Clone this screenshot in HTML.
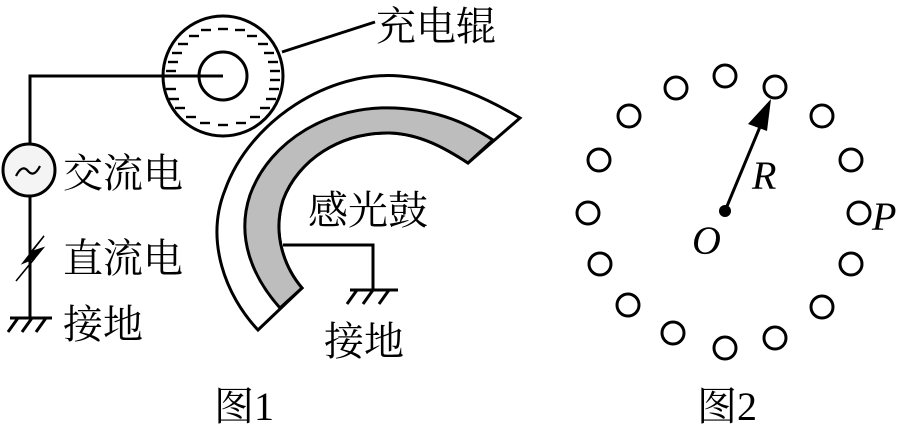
<!DOCTYPE html>
<html><head><meta charset="utf-8"><style>
body{margin:0;background:#fff}
svg{display:block}
.cj{font-family:"Liberation Serif","Noto Serif CJK SC","Noto Sans CJK SC",serif;font-size:40px;fill:#000}
.it{font-family:"Liberation Serif",serif;font-style:italic;font-size:40px;fill:#000}
</style></head><body>
<svg width="904" height="430" viewBox="0 0 904 430" xmlns="http://www.w3.org/2000/svg">
<g fill="none" stroke="#000" stroke-width="3">
<path d="M258,330 C225,295 205,240 225,190 C250,120 330,70 400,76 C450,80 490,100 520,118 L468,163 C445,148 420,134 390,133 C340,132 298,160 283,200 C272,235 285,268 302,288 Z" fill="#fff"/>
<path d="M280,308 C255,280 235,240 250,195 C270,140 330,105 395,108 C440,110 470,125 493,140 L468,163 C445,148 420,134 390,133 C340,132 298,160 283,200 C272,235 285,268 302,288 Z" fill="#bdbdbd"/>
<circle cx="223" cy="76" r="60" fill="#fff"/>
<circle cx="223" cy="76" r="24"/>
<path d="M223,76 H30 V144"/>
<path d="M282,52 L375,22"/>
<circle cx="29" cy="170" r="26" fill="#f4f4f4"/>
<path d="M30,196 V318"/>
<path d="M10,318 H52 M18,318 L8,332 M32,318 L22,332 M46,318 L36,332"/>
<path d="M283,245 H373 V290 M350,290 H398 M357,290 L347,304 M373,290 L363,304 M389,290 L379,304"/>
</g>
<path d="M44,236 L23,263 L35,258 L16,281 L43,248 L31,252 Z" fill="#000" stroke="#000" stroke-width="1.5"/>
<path d="M16,176 q6,-12 12,-5 q6,7 12,-5" fill="none" stroke="#000" stroke-width="2.2"/>
<g stroke="#000" stroke-width="2.4">
<line x1="201" y1="30" x2="211" y2="30"/><line x1="218" y1="29" x2="228" y2="29"/><line x1="235" y1="30" x2="245" y2="30"/>
<line x1="189" y1="36" x2="199" y2="36"/><line x1="247" y1="36" x2="257" y2="36"/>
<line x1="178" y1="44" x2="188" y2="44"/><line x1="258" y1="44" x2="268" y2="44"/>
<line x1="172" y1="53" x2="182" y2="53"/><line x1="264" y1="53" x2="274" y2="53"/>
<line x1="168" y1="62" x2="178" y2="62"/><line x1="268" y1="62" x2="278" y2="62"/>
<line x1="166" y1="71" x2="176" y2="71"/><line x1="270" y1="71" x2="280" y2="71"/>
<line x1="270" y1="80" x2="280" y2="80"/>
<line x1="166" y1="89" x2="176" y2="89"/><line x1="269" y1="89" x2="279" y2="89"/>
<line x1="169" y1="99" x2="179" y2="99"/><line x1="266" y1="99" x2="276" y2="99"/>
<line x1="175" y1="108" x2="185" y2="108"/><line x1="260" y1="108" x2="270" y2="108"/>
<line x1="186" y1="117" x2="196" y2="117"/><line x1="250" y1="117" x2="260" y2="117"/>
<line x1="200" y1="123" x2="210" y2="123"/><line x1="218" y1="125" x2="228" y2="125"/><line x1="236" y1="123" x2="246" y2="123"/>
</g>
<text class="cj" x="376" y="40">充电辊</text>
<text class="cj" x="63" y="187">交流电</text>
<text class="cj" x="63" y="272">直流电</text>
<text class="cj" x="63" y="338">接地</text>
<text class="cj" x="308" y="224">感光鼓</text>
<text class="cj" x="324" y="355">接地</text>
<text class="cj" x="214" y="420">图1</text>
<text class="cj" x="697" y="420">图2</text>
<g fill="#fff" stroke="#000" stroke-width="3">
<circle cx="725" cy="76" r="11"/><circle cx="775" cy="87" r="11"/><circle cx="822" cy="116" r="11"/><circle cx="851" cy="160" r="11"/>
<circle cx="859" cy="213" r="11"/><circle cx="851" cy="264" r="11"/><circle cx="822" cy="307" r="11"/><circle cx="775" cy="338" r="11"/>
<circle cx="725" cy="348" r="11"/><circle cx="673" cy="333" r="11"/><circle cx="628" cy="305" r="11"/><circle cx="600" cy="264" r="11"/>
<circle cx="588" cy="213" r="11"/><circle cx="599" cy="160" r="11"/><circle cx="629" cy="116" r="11"/><circle cx="676" cy="88" r="11"/>
</g>
<circle cx="725" cy="211" r="6" fill="#000"/>
<path d="M725,211 L762,122" stroke="#000" stroke-width="3"/>
<path d="M771,99 L748,124 L767,131 Z" fill="#000"/>
<text class="it" x="752" y="189">R</text>
<text class="it" x="692" y="254">O</text>
<text class="it" x="872" y="230">P</text>
</svg>
</body></html>
